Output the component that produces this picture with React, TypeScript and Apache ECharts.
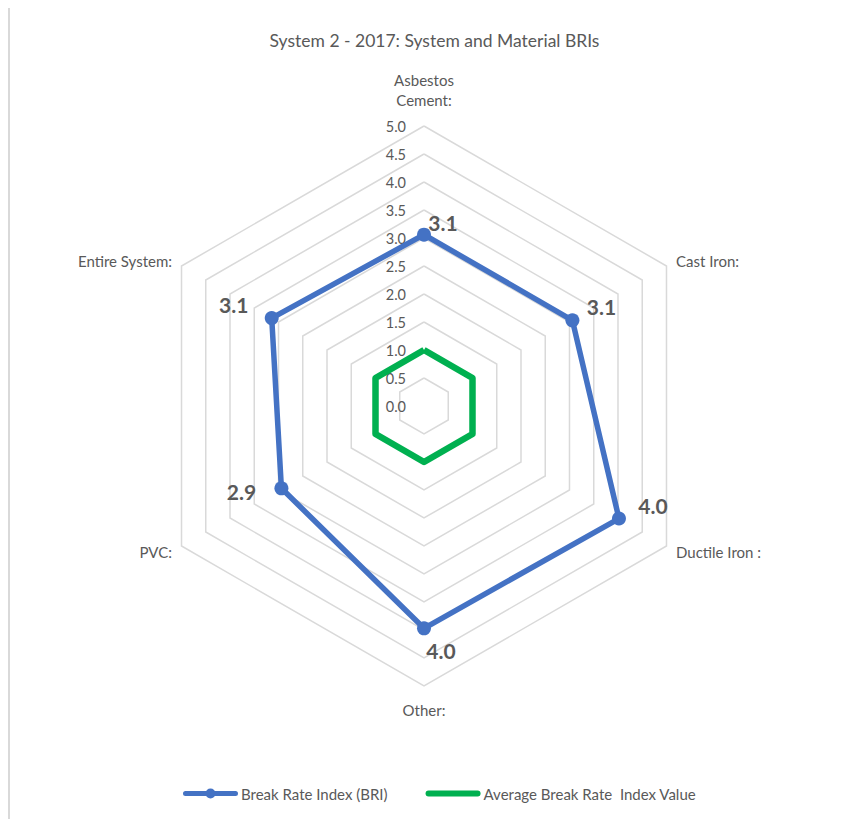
import React, { useEffect, useRef } from "react";
import * as echarts from "echarts";

// ---- data (clockwise from top, as in the reference) ----
const categories = ["Asbestos\nCement:", "Cast Iron:", "Ductile Iron :", "Other:", "PVC:", "Entire System:"];
const briValues = [3.06, 3.06, 4.02, 3.97, 2.94, 3.14];
const avgValues = [1.0, 1.0, 1.0, 1.0, 1.0, 1.0];
const seriesNames = ["Break Rate Index (BRI)", "Average Break Rate  Index Value"];
const axisMin = 0;
const axisMax = 5;
const splitCount = 10;

// ---- styles ----
const nameGaps = [10, 11, 11, 14, 11, 11];
const labelOffsets: number[][] = [
  [19, -12],
  [29, -14],
  [34, -13],
  [17, 22],
  [-40, 3],
  [-38, -14],
];
const FONT = "Lato, 'Open Sans', sans-serif";
const GREY = "#595959";
const BLUE = "#4472C4";
const GREEN = "#00B050";

// ECharts radar runs counter-clockwise from the top; reorder so it reads clockwise.
const ecOrder = [0, ...categories.map((_, i) => i).slice(1).reverse()];
const toEc = (arr: number[]) => ecOrder.map((i) => arr[i]);

const blueIcon =
  "path://M2.5,2.5 L52.5,2.5 A2.5,2.5 0 0 1 52.5,7.5 L2.5,7.5 A2.5,2.5 0 0 1 2.5,2.5 Z M22.5,5 A5,5 0 1 1 32.5,5 A5,5 0 1 1 22.5,5 Z";
const greenIcon = "path://M3,2 L52,2 A3,3 0 0 1 52,8 L3,8 A3,3 0 0 1 3,2 Z";

export default function App() {
  const ref = useRef<HTMLDivElement>(null);

  useEffect(() => {
    document.documentElement.style.overflow = "hidden";
    const chart = echarts.init(ref.current!, undefined, { renderer: "svg" });

    const indicator = ecOrder.map((i) => {
      const ind: any = { name: categories[i], min: axisMin, max: axisMax, nameGap: nameGaps[i] };
      if (i === 0) ind.axisLabel = { show: true };
      return ind;
    });

    const labelItems = categories.map((_, k) => {
      const ecIdx = ecOrder.indexOf(k);
      return {
        name: "lbl" + k,
        value: toEc(briValues),
        symbol: "circle",
        symbolSize: 1,
        itemStyle: { color: "rgba(0,0,0,0)" },
        lineStyle: { width: 0, opacity: 0 },
        label: {
          show: true,
          position: "inside",
          offset: labelOffsets[k],
          formatter: (p: any) => (p.dimensionIndex === ecIdx ? Number(p.value).toFixed(1) : ""),
          color: GREY,
          fontSize: 21,
          fontWeight: "bold",
          fontFamily: FONT,
        },
      };
    });

    chart.setOption({
      animation: false,
      backgroundColor: "#ffffff",
      title: {
        text: "System 2 - 2017: System and Material BRIs",
        left: "center",
        top: 19,
        textStyle: { color: GREY, fontSize: 17.5, fontWeight: "normal", fontFamily: FONT },
      },
      legend: {
        top: 774,
        left: 168,
        itemWidth: 55,
        itemHeight: 10,
        itemGap: 38,
        symbolKeepAspect: true,
        selectedMode: false,
        textStyle: { color: GREY, fontSize: 15, fontFamily: FONT, padding: [0, 0, 0, -2] },
        data: [
          { name: seriesNames[0], icon: blueIcon, itemStyle: { color: BLUE, borderWidth: 0 } },
          { name: seriesNames[1], icon: greenIcon, itemStyle: { color: GREEN, borderWidth: 0 } },
        ],
      },
      radar: {
        center: [414, 399],
        radius: 280,
        shape: "polygon",
        splitNumber: splitCount,
        startAngle: 90,
        indicator,
        axisName: { color: GREY, fontSize: 15, fontFamily: FONT, lineHeight: 20, padding: [0, 0, 6, 0] },
        axisLine: { show: false },
        axisTick: { show: false },
        splitArea: { show: false },
        splitLine: { lineStyle: { color: "#d9d9d9", width: 1.5 } },
        axisLabel: {
          show: false,
          color: GREY,
          fontSize: 14.5,
          fontFamily: FONT,
          margin: 18,
          formatter: (v: number) => Number(v).toFixed(1),
        },
      },
      series: [
        {
          type: "radar",
          silent: true,
          data: [
            {
              name: seriesNames[0],
              value: toEc(briValues),
              symbol: "circle",
              symbolSize: 14,
              itemStyle: { color: BLUE },
              lineStyle: { color: BLUE, width: 5.5 },
            },
            {
              name: seriesNames[1],
              value: toEc(avgValues),
              symbol: "none",
              itemStyle: { color: GREEN },
              lineStyle: { color: GREEN, width: 6.5 },
            },
            ...labelItems,
          ],
        },
      ],
    });

    return () => chart.dispose();
  }, []);

  return (
    <div style={{ marginTop: -3, marginRight: -8, width: 851, height: 814, overflow: "hidden" }}>
      <div
        style={{
          borderLeft: "2px solid #d9d9d9",
          borderTop: "2px solid #d9d9d9",
          width: 900,
          height: 900,
          boxSizing: "border-box",
        }}
      >
        <div ref={ref} style={{ width: 849, height: 812 }} />
      </div>
    </div>
  );
}
